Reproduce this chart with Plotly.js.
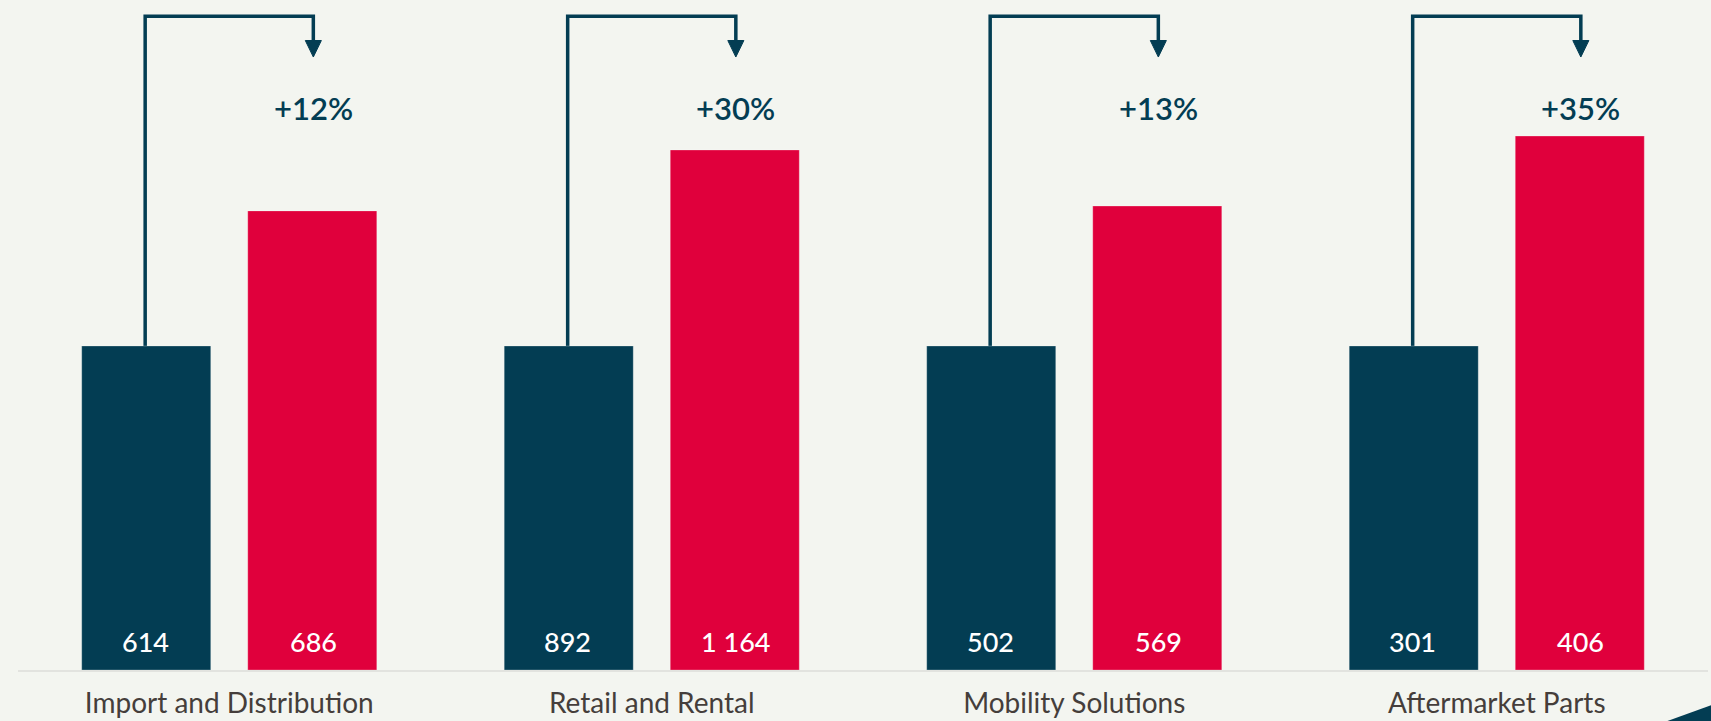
<!DOCTYPE html>
<html>
<head>
<meta charset="utf-8">
<script src="https://cdn.plot.ly/plotly-3.0.1.min.js"></script>
<style>
  html, body { margin: 0; padding: 0; background: #f3f5f0; }
  #chart { width: 1711px; height: 721px; }
</style>
</head>
<body>
<div id="chart"></div>
<script>
// ---- data ----
const categories = ['Import and Distribution', 'Retail and Rental', 'Mobility Solutions', 'Aftermarket Parts'];
const baseValues = [614, 892, 502, 301];        // labels on dark bars
const currentValues = [686, 1164, 569, 406];    // labels on red bars
const growthLabels = ['+12%', '+30%', '+13%', '+35%'];
// visual bar heights (indexed, dark bar = 100)
const baseIndex = [100, 100, 100, 100];
const currentIndex = [141.7, 160.5, 143.2, 164.8];

// ---- style ----
const DARK = '#033d53';
const RED = '#e0003c';
const BG = '#f3f5f0';
const FONT = 'Lato, "Open Sans", sans-serif';
const OFF = 0.199;      // half distance between bar centres (category units)
const TOP = 201.8;      // height of the connector arrows
const HEAD_TOP = 194.3, HEAD_TIP = 189.2, HEAD_HW = 0.019;

const idx = categories.map((_, i) => i);

const traces = [
  {
    type: 'bar', x: idx, y: baseIndex, name: 'base',
    marker: { color: DARK, line: { color: 'rgba(255,255,255,0.25)', width: 1 } },
    hoverinfo: 'skip'
  },
  {
    type: 'bar', x: idx, y: currentIndex, name: 'current',
    marker: { color: RED, line: { color: 'rgba(255,255,255,0.25)', width: 1 } },
    hoverinfo: 'skip'
  }
];

const fmt = v => v.toLocaleString('en-US').replace(/,/g, ' ');

const shapes = [];
const annotations = [];
idx.forEach(i => {
  const xd = i - OFF, xr = i + OFF;
  shapes.push({
    type: 'path', xref: 'x', yref: 'y', layer: 'below',
    path: `M ${xd},${baseIndex[i]} L ${xd},${TOP} L ${xr},${TOP} L ${xr},${HEAD_TOP}`,
    line: { color: DARK, width: 3.5 }
  });
  shapes.push({
    type: 'path', xref: 'x', yref: 'y',
    path: `M ${xr - HEAD_HW},${HEAD_TOP} L ${xr + HEAD_HW},${HEAD_TOP} L ${xr},${HEAD_TIP} Z`,
    fillcolor: DARK, line: { color: DARK, width: 1 }
  });
  annotations.push({
    x: xd, y: 0, xref: 'x', yref: 'y', yanchor: 'bottom', yshift: 10,
    text: fmt(baseValues[i]), showarrow: false,
    font: { family: FONT, size: 27, color: '#ffffff', weight: 500 }
  });
  annotations.push({
    x: xr, y: 0, xref: 'x', yref: 'y', yanchor: 'bottom', yshift: 10,
    text: fmt(currentValues[i]), showarrow: false,
    font: { family: FONT, size: 27, color: '#ffffff', weight: 500 }
  });
  annotations.push({
    x: xr, y: 173.5, xref: 'x', yref: 'y', yanchor: 'middle',
    text: growthLabels[i], showarrow: false,
    font: { family: FONT, size: 31, color: DARK, weight: 600 }
  });
});

// decorative corner triangle
shapes.push({
  type: 'path', xref: 'paper', yref: 'paper', layer: 'above',
  path: 'M 0.976,-0.0761 L 1.0025,-0.052 L 1.0025,-0.0761 Z',
  fillcolor: DARK, line: { width: 0 }
});

const layout = {
  width: 1711, height: 721,
  margin: { l: 18, r: 3, t: 0, b: 51, pad: 0 },
  paper_bgcolor: BG, plot_bgcolor: BG,
  showlegend: false,
  barmode: 'group', bargap: 0.214, bargroupgap: 0.223,
  font: { family: FONT },
  xaxis: {
    type: 'linear', range: [-0.5, 3.5],
    tickmode: 'array', tickvals: idx, ticktext: categories,
    showgrid: false, zeroline: false,
    showline: true, linecolor: '#e2e3df', linewidth: 2,
    ticks: '', ticklabelstandoff: 7, automargin: false,
    tickfont: { family: FONT, size: 28, color: '#453e3b' }
  },
  yaxis: {
    range: [0, 206.8], visible: false, showgrid: false, zeroline: false, fixedrange: true
  },
  shapes: shapes,
  annotations: annotations
};

Plotly.newPlot('chart', traces, layout, { displayModeBar: false, staticPlot: true });
</script>
</body>
</html>
